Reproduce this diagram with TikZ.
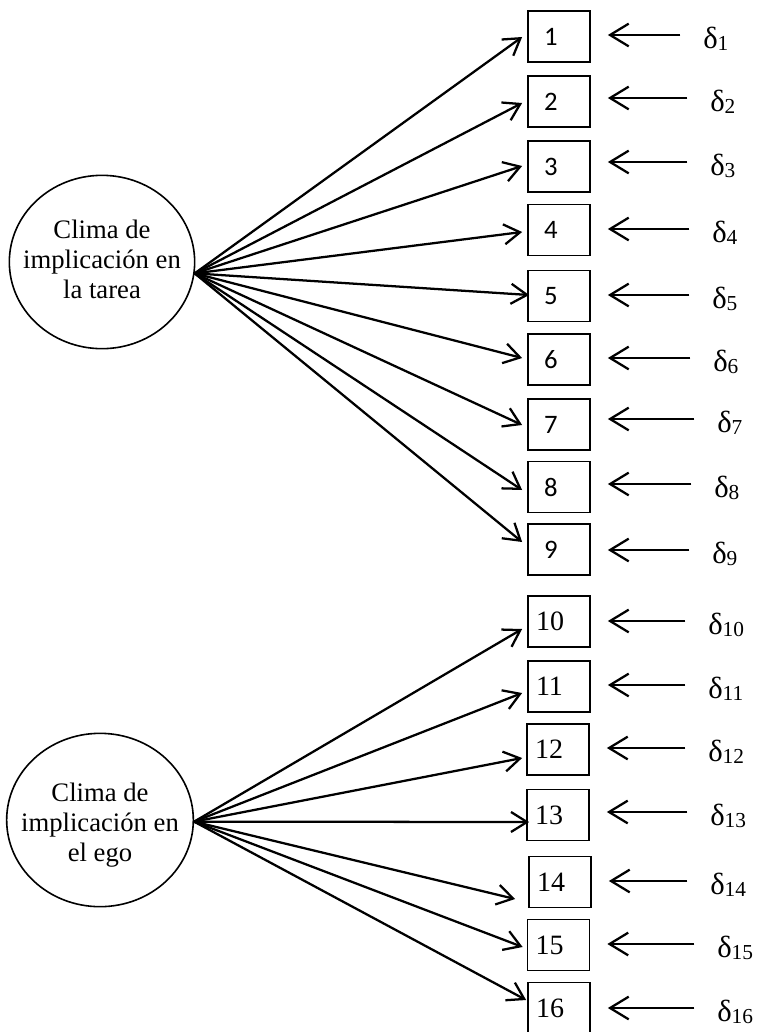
\documentclass[tikz,border=0pt]{standalone}
\usepackage{fontspec}
\setmainfont{Liberation Serif}
\newfontfamily\calfont{Carlito}
\usetikzlibrary{shapes.geometric, arrows.meta, calc}
\newcommand{\err}[1]{δ{\fontsize{16}{16}\selectfont\raisebox{-1pt}{#1}}}

\begin{document}
\begin{tikzpicture}[x=0.75pt, y=-0.75pt,
  factor/.style={ellipse, draw, line width=1.2pt, inner sep=0pt,
    minimum width=139pt, minimum height=130pt},
  flabel/.style={align=center, inner sep=0pt, font=\fontsize{20}{22.5}\selectfont},
  itema/.style={draw, line width=1.3pt, minimum height=38.25pt, inner xsep=12pt,
    text width=22.5pt, align=left, font=\calfont\fontsize{20}{22}\selectfont},
  itemb/.style={draw, line width=1.3pt, minimum height=38.25pt, inner xsep=6pt,
    text width=34.5pt, align=left, font=\fontsize{21}{23}\selectfont},
  errnode/.style={anchor=west, inner sep=0pt, text height=16pt, text depth=0pt,
    font=\fontsize{23}{25}\selectfont},
  fan/.style={-{Straight Barb[length=12pt, width=15pt]}, line width=1.7pt},
  back/.style={-{Straight Barb[length=14pt, width=17pt]}, line width=1.7pt,
    shorten <=17pt, shorten >=12.75pt}]
\useasboundingbox (0,0) rectangle (759,1032);
\node[factor] (t) at (102,262) {};
\node[flabel] (tl) at (102,259) {Clima de\\implicación en\\la tarea};
\node[factor, minimum width=140pt] (g) at (100,820) {};
\node[flabel] (gl) at (100,825) {Clima de\\implicación en\\el ego};
\foreach \i/\bx/\by in {1/559/36.5, 2/559/101.5, 3/559/166.5, 4/559/230, 5/559/296,
    6/559/359.5, 7/559/424.5, 8/559/487, 9/559/549.5}
  \node[itema] (b\i) at (\bx,\by) {\i};
\foreach \i/\bx/\by in {10/559/621.5, 11/559/686.5, 12/558/749.5, 13/558/815,
    14/560/882, 15/558.5/945, 16/559/1008}
  \node[itemb] (b\i) at (\bx,\by) {\i};
\foreach \i/\dx/\dy in {1/-5/0.5, 2/-5/1.5, 3/-5/-0.5, 4/-5/2, 5/2/-1, 6/-5/-1.5,
    7/-5/0.5, 8/-5/3, 9/-5/-7.5}
  \draw[fan] (t.-7) -- ($(b\i.west)+(\dx,\dy)$);
\foreach \i/\dx/\dy in {10/-5/7.5, 11/-5/6.5, 12/-4/8.5, 13/3/7, 14/-13/17,
    15/-4/2, 16/-1/-8}
  \draw[fan] (g.-1) -- ($(b\i.west)+(\dx,\dy)$);
\foreach \i/\ex/\ey in {1/703/38, 2/710/101, 3/710/165, 4/712/232, 5/712/298,
    6/713/361, 7/717/422, 8/714/487, 9/712/553, 10/708/624, 11/708/688,
    12/708/751, 13/710/815, 14/710/884, 15/717/947, 16/717/1011} {
  \node[errnode] (e\i) at (\ex,\ey) {\err{\i}};
  \draw[back] ($(e\i.west)+(0,-3)$) -- ($(e\i.west -| b\i.east)+(0,-3)$);
}
\end{tikzpicture}
\end{document}
